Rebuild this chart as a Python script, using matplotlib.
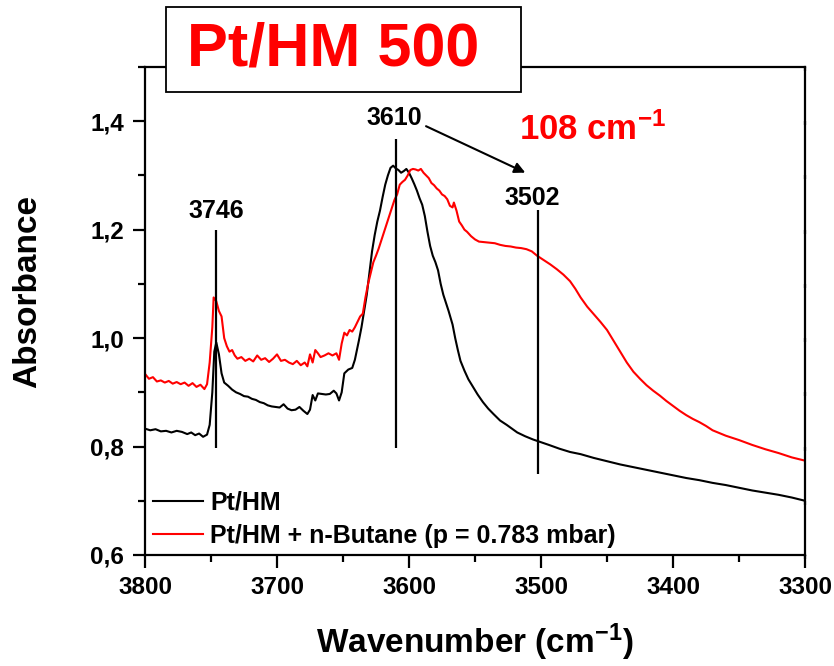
import matplotlib
matplotlib.use("Agg")
import matplotlib.pyplot as plt
from matplotlib.patches import Rectangle
from matplotlib.ticker import MultipleLocator, FuncFormatter

# Pt/HM (black)
wn_pthm = [3800, 3796, 3792, 3788, 3784, 3780, 3776, 3772, 3768, 3765, 3762, 3759, 3756, 3753,
           3751, 3749, 3747.5, 3746, 3744, 3742, 3740, 3737, 3734, 3731, 3728, 3725, 3722, 3719,
           3716, 3713, 3710, 3707, 3704, 3701, 3698, 3695, 3692, 3689, 3686, 3683, 3680, 3677,
           3675, 3673, 3671, 3669, 3666, 3663, 3660, 3657, 3655, 3653, 3651, 3649, 3646, 3643,
           3641, 3638, 3636, 3634, 3632, 3630, 3628, 3626, 3624, 3622, 3620, 3618, 3616, 3614,
           3612, 3610, 3608, 3606, 3604, 3602, 3600, 3598, 3596, 3594, 3592, 3590, 3588, 3586,
           3584, 3582, 3580, 3578, 3576, 3574, 3572, 3570, 3567, 3565, 3563, 3561, 3558, 3555,
           3552, 3548, 3544, 3540, 3536, 3531, 3526, 3522, 3518, 3512, 3506, 3500, 3494, 3486,
           3478, 3470, 3460, 3450, 3440, 3430, 3420, 3410, 3400, 3390, 3380, 3370, 3360, 3350,
           3340, 3330, 3320, 3310, 3300]
abs_pthm = [0.833, 0.830, 0.832, 0.828, 0.829, 0.826, 0.829, 0.827, 0.823, 0.826, 0.821, 0.824, 0.818, 0.822,
            0.840, 0.900, 0.975, 0.992, 0.970, 0.935, 0.918, 0.912, 0.905, 0.900, 0.897, 0.893, 0.892, 0.888,
            0.886, 0.882, 0.880, 0.876, 0.874, 0.873, 0.872, 0.878, 0.870, 0.867, 0.868, 0.873, 0.866, 0.860,
            0.868, 0.895, 0.885, 0.898, 0.897, 0.896, 0.897, 0.903, 0.898, 0.885, 0.900, 0.935, 0.942, 0.945,
            0.960, 0.995, 1.020, 1.050, 1.080, 1.120, 1.160, 1.190, 1.215, 1.235, 1.260, 1.283, 1.300, 1.314,
            1.318, 1.313, 1.310, 1.305, 1.308, 1.312, 1.305, 1.295, 1.284, 1.272, 1.258, 1.246, 1.225, 1.196,
            1.170, 1.152, 1.140, 1.125, 1.100, 1.080, 1.065, 1.050, 1.025, 1.000, 0.978, 0.958, 0.940, 0.924,
            0.912, 0.896, 0.882, 0.870, 0.860, 0.848, 0.840, 0.833, 0.826, 0.819, 0.813, 0.808, 0.803, 0.796,
            0.790, 0.786, 0.779, 0.773, 0.767, 0.762, 0.757, 0.752, 0.747, 0.742, 0.738, 0.733, 0.729, 0.724,
            0.719, 0.715, 0.711, 0.706, 0.700]

# Pt/HM + n-Butane (red)
wn_butane = [3800, 3797, 3794, 3791, 3788, 3785, 3782, 3779, 3776, 3773, 3770, 3767, 3764, 3761,
             3758, 3755, 3753, 3751, 3749, 3748, 3746, 3744, 3742, 3740, 3738, 3736, 3734, 3732,
             3730, 3727, 3724, 3721, 3718, 3715, 3712, 3709, 3706, 3703, 3700, 3697, 3694, 3691,
             3688, 3685, 3682, 3679, 3677, 3675, 3673, 3671, 3669, 3667, 3664, 3661, 3658, 3655,
             3653, 3651, 3649, 3647, 3645, 3643, 3641, 3639, 3637, 3635, 3633, 3631, 3629, 3627,
             3625, 3623, 3621, 3619, 3617, 3615, 3613, 3611, 3609, 3607, 3605, 3603, 3601, 3599,
             3597, 3595, 3593, 3591, 3589, 3587, 3585, 3583, 3581, 3579, 3577, 3575, 3573, 3571,
             3569, 3567, 3566, 3564, 3562, 3560, 3558, 3556, 3553, 3550, 3547, 3543, 3539, 3535,
             3531, 3527, 3523, 3519, 3515, 3511, 3507, 3503, 3498, 3493, 3488, 3483, 3478, 3474,
             3470, 3465, 3460, 3455, 3450, 3445, 3440, 3435, 3430, 3425, 3420, 3415, 3410, 3405,
             3400, 3395, 3390, 3385, 3380, 3375, 3370, 3360, 3350, 3340, 3330, 3320, 3310, 3300]
abs_butane = [0.934, 0.925, 0.928, 0.920, 0.922, 0.918, 0.921, 0.916, 0.919, 0.915, 0.918, 0.912, 0.917, 0.910,
              0.914, 0.906, 0.915, 0.955, 1.020, 1.075, 1.068, 1.050, 1.040, 1.000, 0.985, 0.975, 0.978, 0.968,
              0.962, 0.965, 0.958, 0.962, 0.957, 0.968, 0.960, 0.963, 0.956, 0.962, 0.970, 0.958, 0.960, 0.955,
              0.952, 0.958, 0.950, 0.955, 0.948, 0.970, 0.955, 0.978, 0.972, 0.965, 0.968, 0.972, 0.968, 0.972,
              0.960, 0.990, 1.010, 1.005, 1.015, 1.012, 1.020, 1.030, 1.040, 1.045, 1.075, 1.100, 1.120, 1.140,
              1.152, 1.165, 1.180, 1.195, 1.210, 1.225, 1.240, 1.255, 1.265, 1.283, 1.288, 1.292, 1.300, 1.310,
              1.312, 1.311, 1.309, 1.312, 1.305, 1.300, 1.295, 1.286, 1.282, 1.276, 1.272, 1.265, 1.262, 1.256,
              1.244, 1.241, 1.250, 1.235, 1.215, 1.208, 1.200, 1.196, 1.188, 1.182, 1.178, 1.177, 1.176, 1.175,
              1.172, 1.170, 1.169, 1.167, 1.166, 1.164, 1.160, 1.152, 1.144, 1.136, 1.127, 1.117, 1.105, 1.091,
              1.075, 1.058, 1.044, 1.030, 1.015, 0.995, 0.975, 0.955, 0.938, 0.925, 0.913, 0.903, 0.894, 0.884,
              0.875, 0.866, 0.858, 0.851, 0.845, 0.838, 0.830, 0.820, 0.812, 0.803, 0.795, 0.788, 0.780, 0.774]

series_labels = ["Pt/HM", "Pt/HM + n-Butane (p = 0.783 mbar)"]

# marked band positions: (wavenumber, line bottom, line top)
peak_marks = [(3746, 0.797, 1.20), (3610, 0.798, 1.367), (3502, 0.750, 1.237)]

plt.rcParams['font.family'] = ['Liberation Sans', 'DejaVu Sans']
plt.rcParams['font.weight'] = 'bold'
plt.rcParams['axes.labelweight'] = 'bold'
plt.rcParams['mathtext.fontset'] = 'custom'
plt.rcParams['mathtext.rm'] = 'Liberation Sans:bold'
plt.rcParams['mathtext.default'] = 'rm'

fig = plt.figure(figsize=(8.34, 6.66), dpi=100)
ax = fig.add_axes([145 / 834, 1 - 555 / 666, 660 / 834, 488 / 666])

ax.plot(wn_pthm, abs_pthm, color='black', lw=1.5, label=series_labels[0])
ax.plot(wn_butane, abs_butane, color='#ff0000', lw=1.5, label=series_labels[1])

for wn, lo, hi in peak_marks:
    ax.vlines(wn, lo, hi, color='black', lw=1.6)

ax.text(3746, 1.213, "3746", ha='center', va='bottom', fontsize=18)
ax.text(3611, 1.383, "3610", ha='center', va='bottom', fontsize=18)
ax.text(3507, 1.236, "3502", ha='center', va='bottom', fontsize=18)
ax.annotate("", xy=(3510, 1.303), xytext=(3589, 1.393),
            arrowprops=dict(arrowstyle='-|>', color='black', lw=1.5, mutation_scale=16))
ax.text(3461, 1.385, "108 cm$^{-1}$", color='#ff0000', ha='center', va='center', fontsize=25)

ax.set_xlim(3800, 3300)
ax.set_ylim(0.6, 1.5)
ax.xaxis.set_major_locator(MultipleLocator(100))
ax.xaxis.set_minor_locator(MultipleLocator(50))
ax.yaxis.set_major_locator(MultipleLocator(0.2))
ax.yaxis.set_minor_locator(MultipleLocator(0.1))
ax.yaxis.set_major_formatter(FuncFormatter(lambda v, p: f"{v:.1f}".replace('.', ',')))
ax.xaxis.set_major_formatter(FuncFormatter(lambda v, p: f"{v:.0f}"))

for s in ax.spines.values():
    s.set_linewidth(1.6)
ax.tick_params(axis='both', which='major', direction='out', length=9, width=1.6,
               labelsize=17.5, pad=6)
ax.tick_params(axis='both', which='minor', direction='out', length=5, width=1.6)
ax.tick_params(axis='y', which='both', right=True, labelright=False)
# short inward ticks on the right frame
for line in ax.yaxis.get_ticklines(minor=False)[1::2] + ax.yaxis.get_ticklines(minor=True)[1::2]:
    line.set_marker(3)
    line.set_markersize(3)

ax.set_xlabel("Wavenumber (cm$^{-1}$)", fontsize=24, labelpad=16)
ax.set_ylabel("Absorbance", fontsize=24)
ax.yaxis.set_label_coords(-0.154, 0.54)

ax.legend(loc='lower left', frameon=False, fontsize=18, handlelength=2.0,
          handletextpad=0.3, labelspacing=0.35, borderaxespad=0.1, borderpad=0.2)

# title box overlapping the top frame
fig.patches.append(Rectangle((166 / 834, 1 - 92 / 666), 355 / 834, 85 / 666,
                             transform=fig.transFigure, facecolor='white',
                             edgecolor='black', lw=1.3, zorder=5))
fig.text(333 / 834, 1 - 50 / 666, "Pt/HM 500", color='#ff0000', fontsize=44,
         ha='center', va='center', zorder=6)

fig.savefig("out.png", dpi=100)
